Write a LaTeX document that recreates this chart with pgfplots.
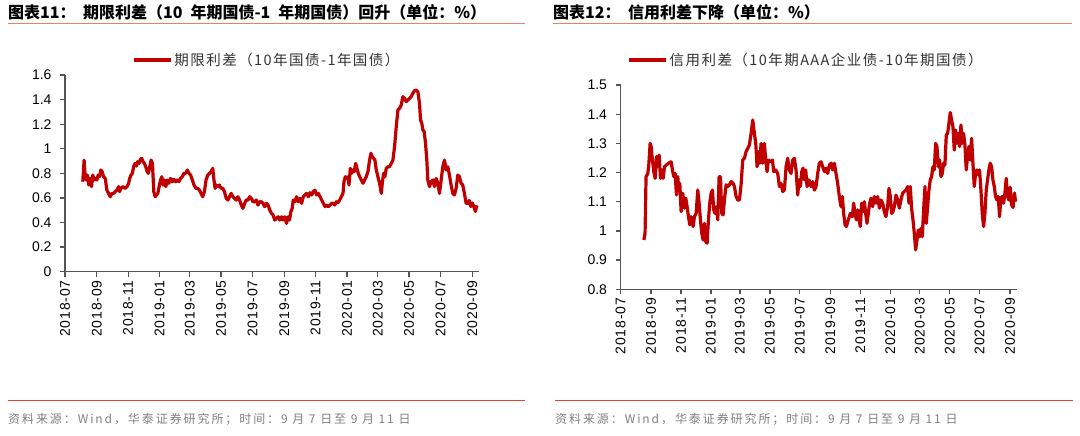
\documentclass[border=0pt]{standalone}
\usepackage{pgfplots}
\pgfplotsset{compat=1.18}
\usepackage{fontspec}
\setmainfont{Liberation Sans}
\newfontfamily\cjk{Noto Sans CJK SC}
\newfontfamily\cjkleg{Noto Sans CJK SC}[LetterSpace=10]
\newfontfamily\cjkfoot{Noto Sans CJK SC}[LetterSpace=16]
\newfontfamily\ticksans{Liberation Sans}[LetterSpace=6]
\definecolor{sred}{HTML}{C00000}
\definecolor{hline}{HTML}{E8806A}
\definecolor{fline}{HTML}{E8402A}
\definecolor{axgray}{HTML}{555555}

\pgfplotstableread{
day val
34.6 0.732
37.2 0.908
39.1 0.786
41.1 0.746
43.7 0.786
46.3 0.705
48.9 0.759
51.5 0.692
54.1 0.786
56.8 0.746
59.4 0.759
62 0.746
64.6 0.786
67.2 0.773
69.8 0.827
72.4 0.814
75 0.773
78.3 0.759
81.5 0.664
84.8 0.637
88.1 0.61
91.3 0.637
94.6 0.637
97.8 0.651
101.1 0.664
104.4 0.692
106.3 0.651
108.9 0.678
112.9 0.692
116.8 0.678
120.7 0.692
123.9 0.719
125.9 0.759
128.5 0.786
131.1 0.80
133.7 0.854
136.3 0.881
138.9 0.86
141.6 0.895
144.2 0.881
146.8 0.914
149.4 0.922
152 0.895
154.6 0.881
157.2 0.854
159.8 0.814
162.4 0.80
165 0.854
167.6 0.908
170.2 0.881
172.9 0.651
175.5 0.61
178.1 0.624
180.7 0.637
183.3 0.692
185.9 0.746
188.5 0.773
191.1 0.705
193.7 0.746
196.3 0.692
199 0.746
202.2 0.719
205.5 0.759
208.7 0.732
212 0.751
215.3 0.732
218.5 0.746
221.8 0.732
225 0.759
228.3 0.773
231.6 0.80
234.8 0.80
238.1 0.827
241.4 0.80
244.6 0.786
247.9 0.746
251.1 0.705
255.1 0.678
258.3 0.678
261.6 0.664
264.9 0.637
268.1 0.61
271.4 0.651
274.6 0.746
277.9 0.786
281.2 0.80
284.4 0.814
287.7 0.841
289.6 0.759
292.3 0.678
294.9 0.705
297.5 0.692
300.7 0.705
304 0.678
307.3 0.678
310.5 0.651
313.8 0.597
317.1 0.583
320.3 0.61
323.6 0.637
326.8 0.61
330.1 0.597
333.4 0.583
336.6 0.61
339.9 0.583
343.2 0.542
346.4 0.515
349.7 0.556
352.9 0.583
356.2 0.583
359.5 0.61
362.7 0.597
366 0.569
369.3 0.569
372.5 0.583
375.8 0.542
379 0.569
382.3 0.569
385.6 0.556
388.8 0.529
392.1 0.556
395.4 0.542
398.6 0.502
401.9 0.475
405.1 0.461
408.4 0.42
411.7 0.434
414.9 0.447
418.2 0.42
421.5 0.447
424.7 0.42
428 0.447
431.2 0.393
434.5 0.447
437.1 0.42
439.7 0.488
442.3 0.515
444.3 0.583
447.6 0.569
450.8 0.61
454.1 0.569
457.3 0.597
460.6 0.556
463.9 0.61
467.1 0.624
470.4 0.637
473.7 0.61
476.9 0.643
480.2 0.624
483.4 0.651
486.7 0.664
490 0.624
493.2 0.637
496.5 0.61
499.8 0.583
503 0.556
506.3 0.529
509.5 0.542
512.8 0.529
516.1 0.542
519.3 0.556
521.8 0.556
525 0.542
528.3 0.569
531.5 0.561
534.8 0.583
538 0.61
541.2 0.637
543.2 0.732
545.8 0.773
548.4 0.759
550.9 0.773
552.9 0.705
555.5 0.841
558.1 0.80
560.7 0.827
563.2 0.814
565.8 0.881
568.4 0.841
571 0.80
573.6 0.773
576.9 0.746
580.1 0.719
583.3 0.746
586.6 0.773
589.8 0.814
593 0.908
595.6 0.963
598.2 0.936
600.8 0.922
603.4 0.908
606 0.827
609.2 0.773
612.5 0.719
615.7 0.637
617.7 0.719
620.2 0.80
622.8 0.773
625.4 0.841
628.7 0.854
631.9 0.854
635.1 0.881
638.4 0.908
641.6 1.017
644.9 1.18
648.1 1.315
651.4 1.329
654.6 1.356
657.8 1.424
661.1 1.41
664.3 1.383
667.5 1.397
670.8 1.41
674 1.424
677.2 1.451
680.5 1.473
683.7 1.478
687 1.464
690.2 1.369
692.2 1.234
694.7 1.207
696.7 1.153
699.3 1.139
701.9 1.044
704.4 0.908
706.4 0.746
709.6 0.692
712.9 0.732
716.1 0.746
719.3 0.692
722.6 0.759
725.8 0.719
729.1 0.637
732.3 0.746
735.6 0.854
738.8 0.908
742 0.827
745.3 0.854
748.5 0.786
751.7 0.705
755 0.637
758.2 0.624
761.5 0.678
764.7 0.786
767.9 0.773
771.2 0.719
774.4 0.705
777.6 0.637
780.9 0.556
784.1 0.556
787 0.58
790 0.53
793 0.56
796 0.53
799 0.49
802 0.54
}\termspread

\pgfplotstableread{
day val
47.5 0.969
50 0.992
52 1.186
55.6 1.197
57.6 1.226
60.3 1.30
62.4 1.289
65 1.243
67.8 1.203
70.5 1.18
73.2 1.255
75.9 1.22
78.6 1.26
81.4 1.18
84 1.209
86.8 1.18
89.5 1.22
93.6 1.226
97.6 1.232
103 1.237
106.4 1.203
108.5 1.186
111.2 1.197
113.9 1.123
116.6 1.186
118.6 1.14
120.7 1.163
123.4 1.066
126.8 1.129
130.2 1.078
132.9 1.112
135.6 1.083
138.3 1.049
141 1.021
143.7 1.049
147.8 1.015
150.5 1.049
153.9 1.06
157.3 1.14
160 1.095
162.7 1.038
165.4 0.992
168.1 0.969
170.8 1.026
173.6 0.963
176.3 0.958
179 1.038
181.7 1.095
184.4 1.129
187.1 1.14
189.8 1.072
192.5 1.06
195.3 1.083
198 1.038
200.7 1.186
203.4 1.186
206.1 1.06
208.8 1.055
211.5 1.106
214.9 1.158
218.3 1.152
221.7 1.158
225.1 1.169
229.2 1.163
231.9 1.152
235.3 1.118
238.6 1.106
242 1.106
245.4 1.158
248.8 1.243
252.2 1.249
255.6 1.272
259 1.283
262.4 1.295
265.8 1.334
269.2 1.38
272.5 1.334
275.3 1.30
278 1.22
280.7 1.272
283.4 1.232
286.1 1.30
289.5 1.232
292.9 1.30
295.6 1.243
298.3 1.203
301 1.243
305 1.237
309.2 1.243
311.9 1.203
315.9 1.209
320 1.197
323.4 1.152
326.8 1.163
330.2 1.135
333.6 1.14
337 1.22
340.3 1.249
343.7 1.209
347.1 1.197
350.5 1.243
353.9 1.249
357.3 1.209
360.7 1.123
363.4 1.175
366.1 1.152
368.8 1.203
371.5 1.215
374.2 1.175
377 1.209
379.7 1.152
383.7 1.175
387.8 1.152
391.2 1.169
394.6 1.14
398 1.152
401.4 1.197
404.7 1.232
408.1 1.237
411.5 1.22
414.9 1.203
418.3 1.215
421.7 1.197
425.1 1.226
428.5 1.232
431.9 1.209
435.3 1.232
438.6 1.197
442 1.163
445.4 1.118
448.8 1.083
451.5 1.118
454.2 1.06
457 1.021
459.7 1.015
463.7 1.038
467.8 1.06
471.9 1.049
474.6 1.095
477.3 1.06
480 1.038
482.7 1.072
485.4 1.038
488.1 1.015
490.8 1.095
493.6 1.066
496.3 1.1
499 1.06
501.7 1.026
504.4 1.06
507.1 1.095
509.8 1.112
513.2 1.083
516.6 1.118
520 1.095
523.4 1.118
527 1.078
530.2 1.106
533.6 1.095
537 1.066
540.3 1.049
543.7 1.083
546.4 1.146
549.2 1.118
551.9 1.06
554.6 1.066
557.3 1.083
560.7 1.123
564.1 1.106
567.5 1.078
570.8 1.106
574.2 1.129
577.6 1.135
581 1.14
584.4 1.152
587.1 1.095
589.8 1.152
592.5 1.078
595.3 1.038
598 0.992
600.7 0.935
603.4 0.969
606.1 1.003
608.8 0.98
611.5 1.009
614.2 0.98
617 1.072
619.7 1.152
622.4 1.026
625.1 1.083
627.8 1.14
630.5 1.175
633.2 1.186
635.9 1.22
638.6 1.209
641.4 1.30
644.1 1.289
646.8 1.22
649.5 1.243
652.2 1.186
654.9 1.197
657.6 1.232
660.3 1.226
663.1 1.329
665.8 1.334
668.5 1.369
671.2 1.406
673.9 1.38
676.6 1.357
679.3 1.277
682 1.346
684.7 1.30
687.5 1.334
690.2 1.289
692.9 1.363
695.6 1.30
698.3 1.334
701 1.295
703.7 1.209
706.4 1.255
709.2 1.289
711.9 1.243
714.6 1.317
717.3 1.232
720 1.152
722.7 1.197
725.4 1.209
728.1 1.192
730.8 1.209
733.6 1.14
736.3 1.06
739 1.015
741.7 1.06
744.4 1.14
747.1 1.175
749.8 1.209
752.5 1.232
755.3 1.22
758 1.175
760.7 1.152
763.4 1.118
766.1 1.106
768.8 1.118
771.5 1.049
774.2 1.112
777 1.118
779.7 1.095
782.4 1.129
785.1 1.18
787.8 1.118
790.5 1.106
793 1.15
796 1.09
799 1.08
802 1.13
804 1.10
}\creditspread

\pgfplotsset{
  hstyle/.style={
    scale only axis,
    axis x line*=bottom, axis y line*=left,
    axis line style={-, draw=axgray, line width=1.3pt},
    every tick/.style={draw=axgray, line width=1.3pt},
    major tick length=5pt, tick align=outside,
    xmin=0, xmax=806,
    xtick={0,62,123,184,243,304,365,427,488,549,609,670,731,793},
    xticklabels={2018-07,2018-09,2018-11,2019-01,2019-03,2019-05,2019-07,2019-09,2019-11,2020-01,2020-03,2020-05,2020-07,2020-09},
    x tick label style={rotate=90, anchor=east, font=\ticksans\fontsize{14}{14}\selectfont},
    y tick label style={font=\fontsize{14}{14}\selectfont, xshift=-5pt},
    /pgf/number format/assume math mode=true,
    clip=false,
    legend style={draw=none, fill=none, anchor=center, font=\cjkleg\fontsize{14.5}{15}\selectfont, text=black!80, inner sep=0pt},
    legend image code/.code={\draw[#1, line width=3.6pt] (0pt,0pt) -- (37pt,0pt);},
  },
  sline/.style={sred, line width=3.2pt, line join=round, no markers},
}

\begin{document}
\begin{tikzpicture}
\useasboundingbox (0pt,0pt) rectangle (1080pt,-436pt);
% headers
\node[anchor=west, inner sep=0pt, font=\cjk\bfseries\fontsize{16}{18}\selectfont] at (8pt,-12pt) {图表11：\ \ 期限利差（10\hspace{8pt}年期国债-1\hspace{8pt}年期国债）回升（单位：\%）};
\draw[hline, line width=1.6pt] (8pt,-23.5pt) -- (525pt,-23.5pt);
\node[anchor=west, inner sep=0pt, font=\cjk\bfseries\fontsize{16}{18}\selectfont] at (553pt,-12pt) {图表12：\ \ 信用利差下降（单位：\%）};
\draw[hline, line width=1.6pt] (553pt,-23.5pt) -- (1072pt,-23.5pt);
% footers
\draw[fline, line width=1.2pt] (8pt,-400.5pt) -- (525pt,-400.5pt);
\draw[fline, line width=1.2pt] (555pt,-400.5pt) -- (1073pt,-400.5pt);
\node[anchor=west, inner sep=0pt, text=black!50, font=\cjkfoot\fontsize{12}{14}\selectfont] at (8pt,-419pt) {资料来源：Wind，华泰证券研究所；时间：9 月 7 日至 9 月 11 日};
\node[anchor=west, inner sep=0pt, text=black!50, font=\cjkfoot\fontsize{12}{14}\selectfont] at (555pt,-419pt) {资料来源：Wind，华泰证券研究所；时间：9 月 7 日至 9 月 11 日};

\begin{axis}[hstyle,
  at={(65pt,-271.7pt)}, anchor=south west,
  width=414pt, height=196.7pt,
  ymin=0, ymax=1.6, ytick={0,0.2,0.4,0.6,0.8,1,1.2,1.4,1.6},
  legend style={at={(0.487,1.076)}},
]
\addplot[sline] table[x=day, y=val] {\termspread};
\addlegendentry{期限利差（10年国债-1年国债）}
\end{axis}

\begin{axis}[hstyle,
  at={(620.5pt,-289.3pt)}, anchor=south west,
  width=396pt, height=204.3pt,
  ymin=0.8, ymax=1.5, ytick={0.8,0.9,1,1.1,1.2,1.3,1.4,1.5},
  legend style={at={(0.468,1.122)}},
]
\addplot[sline] table[x=day, y=val] {\creditspread};
\addlegendentry{信用利差（10年期AAA企业债-10年期国债）}
\end{axis}
\end{tikzpicture}
\end{document}
